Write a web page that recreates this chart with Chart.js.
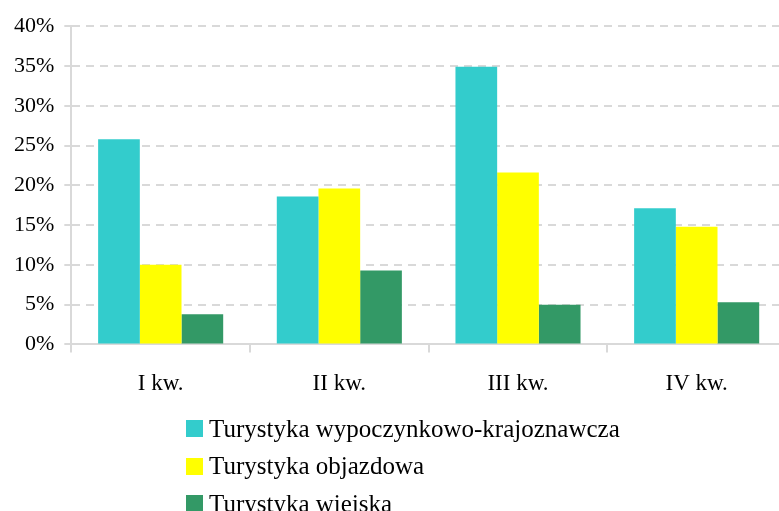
<!DOCTYPE html>
<html>
<head>
<meta charset="utf-8">
<script src="https://cdn.jsdelivr.net/npm/chart.js@4/dist/chart.umd.min.js"></script>
<style>
  html, body { margin: 0; padding: 0; background: #fff; overflow: hidden; }
  #wrap { position: relative; width: 786px; height: 511px; }
  #chartBox { position: absolute; left: 0; top: 3px; width: 786px; height: 508px; }
  #legend { position: absolute; left: 186px; top: 410px; font-family: "Liberation Serif", serif; font-size: 25px; color: #000; }
  #legend .item { display: flex; align-items: center; height: 37.5px; white-space: nowrap; }
  #legend .box { width: 17px; height: 17px; margin-right: 6px; flex: none; }
</style>
</head>
<body>
<div id="wrap">
  <div id="chartBox"><canvas id="quarterChart"></canvas></div>
  <div id="legend"></div>
</div>
<script>
// quarters and shares of trips by type of tourism
const quarters = ['I kw.', 'II kw.', 'III kw.', 'IV kw.'];
const seriesNames = ['Turystyka wypoczynkowo-krajoznawcza', 'Turystyka objazdowa', 'Turystyka wiejska'];
const restValues = [25.8, 18.6, 34.9, 17.1];
const touringValues = [10.0, 19.6, 21.6, 14.8];
const ruralValues = [3.8, 9.3, 5.0, 5.3];
const seriesColors = ['#33CCCC', '#FFFF00', '#339966'];
const yTicks = [0, 5, 10, 15, 20, 25, 30, 35, 40];

const gridColor = '#d9d9d9';
const seriesValues = [restValues, touringValues, ruralValues];

const ctx = document.getElementById('quarterChart');
const myChart = new Chart(ctx, {
  type: 'bar',
  data: {
    labels: quarters,
    datasets: seriesNames.map(function(name, i) {
      return {
        label: name,
        data: seriesValues[i],
        backgroundColor: seriesColors[i],
        borderWidth: 0,
        barPercentage: 1,
        categoryPercentage: 0.7
      };
    })
  },
  options: {
    responsive: true,
    maintainAspectRatio: false,
    animation: false,
    devicePixelRatio: 1,
    layout: { padding: { top: 10, right: 0, bottom: 95, left: 4 } },
    plugins: {
      legend: { display: false },
      tooltip: { enabled: false }
    },
    scales: {
      x: {
        grid: {
          offset: true,
          drawOnChartArea: false,
          color: gridColor,
          lineWidth: 2,
          tickLength: 8
        },
        border: { color: gridColor, width: 2 },
        ticks: {
          color: '#000',
          padding: 18,
          font: { family: 'Liberation Serif', size: 23 }
        }
      },
      y: {
        min: 0,
        max: 40,
        afterBuildTicks: function(axis) {
          axis.ticks = yTicks.map(function(v) { return { value: v }; });
        },
        grid: {
          color: gridColor,
          lineWidth: 2,
          tickLength: 7
        },
        border: { color: gridColor, width: 2, dash: [8, 6] },
        ticks: {
          color: '#000',
          padding: 10,
          font: { family: 'Liberation Serif', size: 22 },
          callback: function(v) { return v + '%'; }
        }
      }
    }
  }
});

// legend built as html, vertical list under the axis
const legendEl = document.getElementById('legend');
myChart.data.datasets.forEach(function(ds) {
  const item = document.createElement('div');
  item.className = 'item';
  const box = document.createElement('span');
  box.className = 'box';
  box.style.background = ds.backgroundColor;
  const txt = document.createElement('span');
  txt.textContent = ds.label;
  item.appendChild(box);
  item.appendChild(txt);
  legendEl.appendChild(item);
});
</script>
</body>
</html>
